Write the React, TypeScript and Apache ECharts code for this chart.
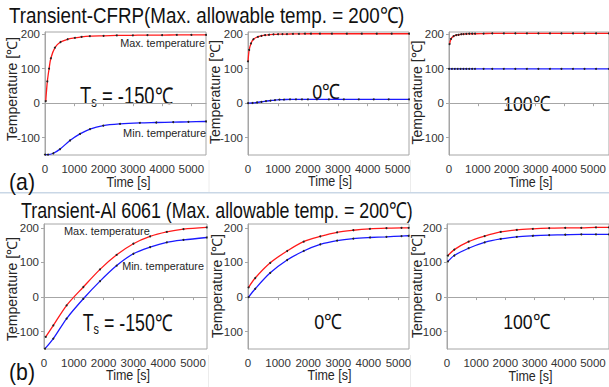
import React, { useEffect, useRef } from "react";
import * as echarts from "echarts";

// ---------- texts ----------
const TOP_TITLE = "Transient-CFRP(Max. allowable temp. = 200℃)";
const BOTTOM_TITLE = "Transient-Al 6061 (Max. allowable temp. = 200℃)";
const Y_NAME = "Temperature [℃]";
const X_NAME = "Time [s]";
const MAX_LABEL = "Max. temperature";
const MIN_LABEL = "Min. temperature";
const CASE_LABELS = ["-150℃", "0℃", "100℃"];

// ---------- ticks ----------
const X_TICKS = [0, 1000, 2000, 3000, 4000, 5000];
const Y_TICKS = [-100, 0, 100, 200];

// ---------- data: CFRP (top row) ----------
const cfrpColdMaxTime = [25, 80, 140, 200, 340, 530, 770, 1020, 1250, 1530, 2000, 2450, 3000, 3500, 4000, 4500, 5000, 5500];
const cfrpColdMaxTemp = [6, 63, 100, 130, 161, 177, 185, 189, 192, 194, 195, 196, 196.5, 197, 197, 197.5, 197.5, 197.5];
const cfrpColdMinTime = [0, 100, 285, 512, 853, 1195, 1536, 1990, 2560, 3240, 3800, 4380, 4900, 5500];
const cfrpColdMinTemp = [-149, -149, -145, -133, -108, -89, -75, -65, -60, -57, -56, -55, -54, -53];

const cfrpZeroMaxTime = [0, 40, 100, 180, 330, 450, 570, 700, 850, 1000, 1150, 1300, 1500, 1700, 1900, 2100, 2400, 2800, 3300, 3800, 4300, 4800, 5380];
const cfrpZeroMaxTemp = [121, 154, 173, 185, 192, 195, 197, 198, 199, 199.5, 200, 200, 200.5, 200.5, 201, 201, 201, 201, 201, 201, 201, 201, 201];
const cfrpZeroMinTime = [0, 150, 300, 450, 600, 750, 900, 1050, 1200, 1400, 1600, 1800, 2000, 2300, 2700, 3200, 3700, 4200, 4700, 5380];
const cfrpZeroMinTemp = [0, 0.5, 2, 4, 6, 7.5, 9, 10, 10.5, 11, 11, 11, 11, 11, 11, 11, 11, 11, 11, 11];

const cfrpHotMaxTime = [20, 70, 160, 250, 330, 420, 500, 600, 700, 800, 900, 1200, 1500, 1900, 2300, 2700, 3100, 3500, 3900, 4300, 4700, 5100, 5550];
const cfrpHotMaxTemp = [171, 186, 194, 197, 198, 199.5, 200, 200.5, 201, 201, 201, 201.5, 202, 202, 202, 202, 202, 202, 202, 202, 202, 202, 202];
const cfrpHotMinTime = [0, 100, 200, 300, 400, 500, 600, 700, 800, 900, 1200, 1500, 1900, 2300, 2700, 3100, 3500, 3900, 4300, 4700, 5100, 5550];
const cfrpHotMinTemp = [99.5, 99.5, 99.5, 99.5, 99.5, 99.5, 99.5, 99.5, 99.5, 99.5, 99.5, 99.5, 99.5, 99.5, 99.5, 99.5, 99.5, 99.5, 99.5, 99.5, 99.5, 99.5];

// ---------- data: Al 6061 (bottom row) ----------
const alColdMaxTime = [57, 313, 760, 1320, 1880, 2440, 3000, 3560, 4120, 4680, 5460];
const alColdMaxTemp = [-115, -82, -24, 29, 80, 122, 154, 175, 188, 196, 201];
const alColdMinTime = [34, 313, 760, 1320, 1880, 2440, 3000, 3560, 4120, 4680, 5460];
const alColdMinTemp = [-149, -120, -62, -5, 46, 91, 125, 144, 158, 165, 172];

const alZeroMaxTime = [20, 240, 740, 1300, 1850, 2400, 2960, 3500, 4050, 4600, 5100, 5340];
const alZeroMaxTemp = [28, 55, 99, 133, 160, 175, 187, 193, 197, 199, 200, 200];
const alZeroMinTime = [20, 240, 740, 1300, 1850, 2400, 2960, 3500, 4050, 4600, 5100, 5340];
const alZeroMinTemp = [0, 24, 70, 107, 133, 152, 163, 169, 172, 174, 176, 177];

const alHotMaxTime = [33, 250, 740, 1290, 1840, 2390, 2940, 3500, 4050, 4600, 5100, 5550];
const alHotMaxTemp = [120, 137, 160, 176, 188, 194, 197, 199, 200, 200, 201, 201];
const alHotMinTime = [33, 250, 740, 1290, 1840, 2390, 2940, 3500, 4050, 4600, 5100, 5550];
const alHotMinTemp = [103, 120, 141, 158, 168, 174, 177, 179, 180, 181, 181, 181];

const panelData = [
  [cfrpColdMaxTime, cfrpColdMaxTemp, cfrpColdMinTime, cfrpColdMinTemp],
  [cfrpZeroMaxTime, cfrpZeroMaxTemp, cfrpZeroMinTime, cfrpZeroMinTemp],
  [cfrpHotMaxTime, cfrpHotMaxTemp, cfrpHotMinTime, cfrpHotMinTemp],
  [alColdMaxTime, alColdMaxTemp, alColdMinTime, alColdMinTemp],
  [alZeroMaxTime, alZeroMaxTemp, alZeroMinTime, alZeroMinTemp],
  [alHotMaxTime, alHotMaxTemp, alHotMinTime, alHotMinTemp],
];

// ---------- layout ----------
const layouts = [
  { left: 45, top: 32, width: 161, height: 123, xMax: 5500, yMax: 206 },
  { left: 248, top: 32, width: 161, height: 123, xMax: 5380, yMax: 206 },
  { left: 449, top: 32, width: 161, height: 123, xMax: 5550, yMax: 206 },
  { left: 44, top: 224, width: 163, height: 125, xMax: 5470, yMax: 211 },
  { left: 248, top: 224, width: 161, height: 125, xMax: 5350, yMax: 211 },
  { left: 447, top: 224, width: 162, height: 125, xMax: 5550, yMax: 211 },
];

const FONT = "'Liberation Sans', Arial, Helvetica, sans-serif";
const TEXT = "#262626";
const AXIS = "#a6a6a6";

let measureCtx: CanvasRenderingContext2D | null = null;
function textWidth(text: string, size: number): number {
  if (!measureCtx) measureCtx = document.createElement("canvas").getContext("2d");
  measureCtx!.font = `${size}px ${FONT}`;
  return measureCtx!.measureText(text).width;
}

function txt(
  text: string,
  size: number,
  x: number,
  y: number,
  align: string,
  targetW?: number,
  rotation = 0,
  color = TEXT
) {
  const w = textWidth(text, size);
  const sx = targetW ? targetW / w : 1;
  return {
    type: "text",
    x,
    y,
    rotation,
    scaleX: sx,
    silent: true,
    style: {
      text,
      fontSize: size,
      fontFamily: FONT,
      fill: color,
      textAlign: align,
      align,
      textVerticalAlign: "middle",
      verticalAlign: "middle",
    },
  };
}

function subscriptLabel(left: number, y: number, targetW: number, rest: string) {
  const big = 23;
  const small = 14;
  const wT = textWidth("T", big);
  const wS = textWidth("s", small);
  const wR = textWidth(rest, big);
  const total = wT + wS + wR;
  const mk = (t: string, s: number, x: number, dy: number) => ({
    type: "text",
    x,
    y: dy,
    silent: true,
    style: { text: t, fontSize: s, fontFamily: FONT, fill: "#111", textAlign: "left", align: "left", textVerticalAlign: "middle", verticalAlign: "middle" },
  });
  return {
    type: "group",
    x: left,
    y,
    scaleX: targetW / total,
    children: [mk("T", big, 0, 0), mk("s", small, wT, 7), mk(rest, big, wT + wS, 0)],
  };
}

export default function App() {
  const ref = useRef<HTMLDivElement>(null);
  useEffect(() => {
    if (!ref.current) return;
    const chart = echarts.init(ref.current, null, { renderer: "svg", width: 609, height: 387 });

    const grid = layouts.map((l) => ({
      left: l.left,
      top: l.top,
      width: l.width,
      height: l.height,
      show: true,
      borderColor: AXIS,
      borderWidth: 1,
      backgroundColor: "#fff",
      containLabel: false,
    }));

    const plain = (v: number) => String(v);

    const xAxis = layouts.map((l, i) => ({
      type: "value",
      gridIndex: i,
      min: 0,
      max: l.xMax,
      axisLine: { show: true, lineStyle: { color: AXIS } },
      axisTick: { show: true, length: 3, customValues: X_TICKS, lineStyle: { color: AXIS } },
      axisLabel: { customValues: X_TICKS, formatter: plain, fontSize: 11.5, fontFamily: FONT, color: "#333", margin: 8 },
      splitLine: { show: false },
    }));

    const yAxis = layouts.map((l, i) => ({
      type: "value",
      gridIndex: i,
      min: -150,
      max: l.yMax,
      axisLine: { show: true, lineStyle: { color: AXIS } },
      axisTick: { show: true, length: 3, customValues: Y_TICKS, lineStyle: { color: AXIS } },
      axisLabel: { customValues: Y_TICKS, formatter: plain, fontSize: 11.5, fontFamily: FONT, color: "#333", margin: 5 },
      splitLine: { show: false },
    }));

    const series: any[] = [];
    panelData.forEach((d, i) => {
      const [maxT, maxV, minT, minV] = d;
      const mk = (ts: number[], vs: number[], color: string, z: number) => ({
        type: "line",
        xAxisIndex: i,
        yAxisIndex: i,
        data: ts.map((t, k) => [t, vs[k]]),
        smooth: 0.3,
        showAllSymbol: true,
        symbol: "circle",
        symbolSize: 2,
        itemStyle: { color: "#222" },
        lineStyle: { color, width: 1.3 },
        clip: true,
        z,
      });
      series.push(mk(minT, minV, "#1a1aff", 2));
      series.push(mk(maxT, maxV, "#ff1a1a", 3));
    });

    const graphics: any[] = [
      // separator
      { type: "line", silent: true, shape: { x1: 0, y1: 192.7, x2: 609, y2: 192.7 }, style: { stroke: "#c9d7e6", lineWidth: 1.5 } },
      { type: "line", silent: true, shape: { x1: 209, y1: 160, x2: 209, y2: 192 }, style: { stroke: "#ececec", lineWidth: 1 } },
      { type: "line", silent: true, shape: { x1: 410.5, y1: 160, x2: 410.5, y2: 192 }, style: { stroke: "#ececec", lineWidth: 1 } },
      { type: "line", silent: true, shape: { x1: 208.5, y1: 355, x2: 208.5, y2: 387 }, style: { stroke: "#ececec", lineWidth: 1 } },
      { type: "line", silent: true, shape: { x1: 410.5, y1: 355, x2: 410.5, y2: 387 }, style: { stroke: "#ececec", lineWidth: 1 } },
      // titles
      txt(TOP_TITLE, 22, 9, 15, "left", 396, 0, "#111"),
      txt(BOTTOM_TITLE, 22, 21, 210, "left", 392, 0, "#111"),
      txt("(a)", 23, 9, 182.5, "left", 26, 0, "#111"),
      txt("(b)", 23, 9, 372.5, "left", 26, 0, "#111"),
      // annotations top
      txt(MAX_LABEL, 10.5, 205, 43.5, "right", 85),
      txt(MIN_LABEL, 10.5, 206, 132.7, "right", 83),
      subscriptLabel(80, 96, 93, " = -150℃"),
      txt(CASE_LABELS[1], 21, 326, 91.5, "center", 28, 0, "#111"),
      txt(CASE_LABELS[2], 21, 526.5, 103.5, "center", 47, 0, "#111"),
      // annotations bottom
      txt(MAX_LABEL, 10.5, 64, 230.7, "left", 86),
      txt(MIN_LABEL, 10.5, 204, 266, "right", 82),
      subscriptLabel(82.7, 322.5, 90, " = -150℃"),
      txt(CASE_LABELS[1], 21, 328, 321.7, "center", 28, 0, "#111"),
      txt(CASE_LABELS[2], 21, 526.5, 321.7, "center", 47, 0, "#111"),
    ];

    // axis names
    const yNamePos = [
      [12, 89], [215, 92], [416.5, 92.5],
      [12, 289], [216.5, 286], [417, 286],
    ];
    yNamePos.forEach(([x, y]) => graphics.push(txt(Y_NAME, 14, x, y, "center", 104, Math.PI / 2)));
    const xNamePos = [
      [128.5, 182.5], [330, 181.7], [530.5, 182],
      [128, 375], [329.5, 375], [530.5, 376.5],
    ];
    xNamePos.forEach(([x, y]) => graphics.push(txt(X_NAME, 14, x, y, "center", 44)));

    chart.setOption({
      animation: false,
      backgroundColor: "#ffffff",
      grid,
      xAxis,
      yAxis,
      series,
      graphic: { elements: graphics },
    });
    return () => chart.dispose();
  }, []);

  return (
    <div
      ref={ref}
      style={{ position: "fixed", left: 0, top: 0, width: 609, height: 387, background: "#fff" }}
    />
  );
}
